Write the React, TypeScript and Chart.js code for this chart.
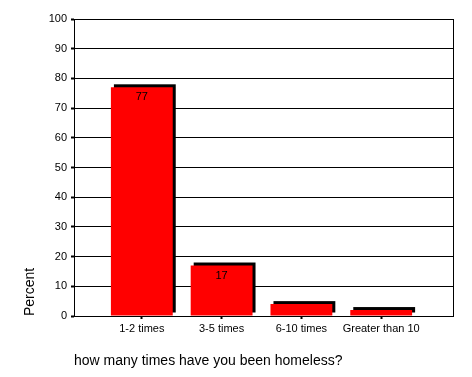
import React, { useEffect, useRef } from "react";
import { Chart, registerables } from "chart.js";

Chart.register(...registerables);

const categories = ["1-2 times", "3-5 times", "6-10 times", "Greater than 10"];
const percentValues = [77, 17, 4, 2];
const yTickMin = 0;
const yTickMax = 100;
const yTickStep = 10;
const xAxisTitle = "how many times have you been homeless?";
const yAxisTitle = "Percent";

const FONT = "'Liberation Sans', Arial, sans-serif";

const shadowPlugin = {
  id: "barShadow",
  beforeDatasetsDraw(chart: any) {
    const ctx = chart.ctx;
    const meta = chart.getDatasetMeta(0);
    ctx.save();
    ctx.fillStyle = "#000000";
    meta.data.forEach((bar: any) => {
      const { x, y, base, width } = bar.getProps(["x", "y", "base", "width"], true);
      ctx.fillRect(x - width / 2 + 3, y - 3, width, base - y);
    });
    ctx.restore();
  },
  afterDatasetsDraw(chart: any) {
    const ctx = chart.ctx;
    const meta = chart.getDatasetMeta(0);
    const ds = chart.data.datasets[0];
    ctx.save();
    ctx.fillStyle = "#000000";
    ctx.font = `11px ${FONT}`;
    ctx.textAlign = "center";
    ctx.textBaseline = "middle";
    meta.data.forEach((bar: any, i: number) => {
      const { x, y, base } = bar.getProps(["x", "y", "base"], true);
      if (base - y > 20) {
        ctx.fillText(String(ds.data[i].y), x, y + 10);
      }
    });
    ctx.restore();
  },
  afterDraw(chart: any) {
    const { ctx, chartArea } = chart;
    ctx.save();
    ctx.strokeStyle = "#000000";
    ctx.lineWidth = 1;
    const rx = Math.round(chartArea.right) + 0.5;
    ctx.beginPath();
    ctx.moveTo(rx, Math.round(chartArea.top));
    ctx.lineTo(rx, Math.round(chartArea.bottom) + 1);
    ctx.stroke();
    ctx.restore();
  },
};

export default function App() {
  const canvasRef = useRef<HTMLCanvasElement | null>(null);

  useEffect(() => {
    if (!canvasRef.current) return;
    const chart = new Chart(canvasRef.current, {
      type: "bar",
      data: {
        datasets: [
          {
            data: categories.map((c, i) => ({ x: i + 1, y: percentValues[i] })),
            backgroundColor: "#ff0000",
            borderWidth: 0,
            barPercentage: 0.775,
            categoryPercentage: 1,
          },
        ],
      },
      options: {
        responsive: false,
        animation: false,
        devicePixelRatio: 1,
        layout: { padding: { top: 19, right: 19, left: 0, bottom: 0 } },
        plugins: {
          legend: { display: false },
          tooltip: { enabled: false },
          title: { display: false },
        },
        scales: {
          x: {
            type: "linear",
            min: 0.15,
            max: 4.9,
            offset: false,
            afterFit: (scale: any) => {
              scale.height = 61;
            },
            afterBuildTicks: (scale: any) => {
              scale.ticks = categories.map((_, i) => ({ value: i + 1 }));
            },
            grid: {
              offset: false,
              drawOnChartArea: false,
              drawTicks: true,
              tickLength: 3,
              tickWidth: 2,
              tickColor: "#000000",
            },
            border: { display: true, color: "#000000", width: 1 },
            ticks: {
              autoSkip: false,
              maxRotation: 0,
              padding: 3,
              color: "#000000",
              font: { family: FONT, size: 11 },
              callback: (v: any) => categories[Math.round(Number(v)) - 1] ?? "",
            },
            title: {
              display: true,
              text: xAxisTitle,
              align: "start",
              color: "#000000",
              font: { family: FONT, size: 14 },
              padding: { top: 0, bottom: 7 },
            },
          },
          y: {
            min: yTickMin,
            max: yTickMax,
            afterFit: (scale: any) => {
              scale.width = 74;
            },
            grid: {
              color: "#000000",
              lineWidth: 1,
              drawTicks: true,
              tickLength: 3,
              tickWidth: 2,
              tickColor: "#000000",
            },
            border: { display: true, color: "#000000", width: 1 },
            ticks: {
              stepSize: yTickStep,
              padding: 4,
              color: "#000000",
              font: { family: FONT, size: 11 },
            },
            title: {
              display: true,
              text: yAxisTitle,
              align: "start",
              color: "#000000",
              font: { family: FONT, size: 14 },
              padding: { top: 22, bottom: 0 },
            },
          },
        },
      },
      plugins: [shadowPlugin],
    });
    return () => chart.destroy();
  }, []);

  return (
    <div style={{ position: "absolute", left: 0, top: 0, width: 472, height: 377, background: "#ffffff" }}>
      <canvas ref={canvasRef} width={472} height={377} style={{ display: "block" }} />
    </div>
  );
}
